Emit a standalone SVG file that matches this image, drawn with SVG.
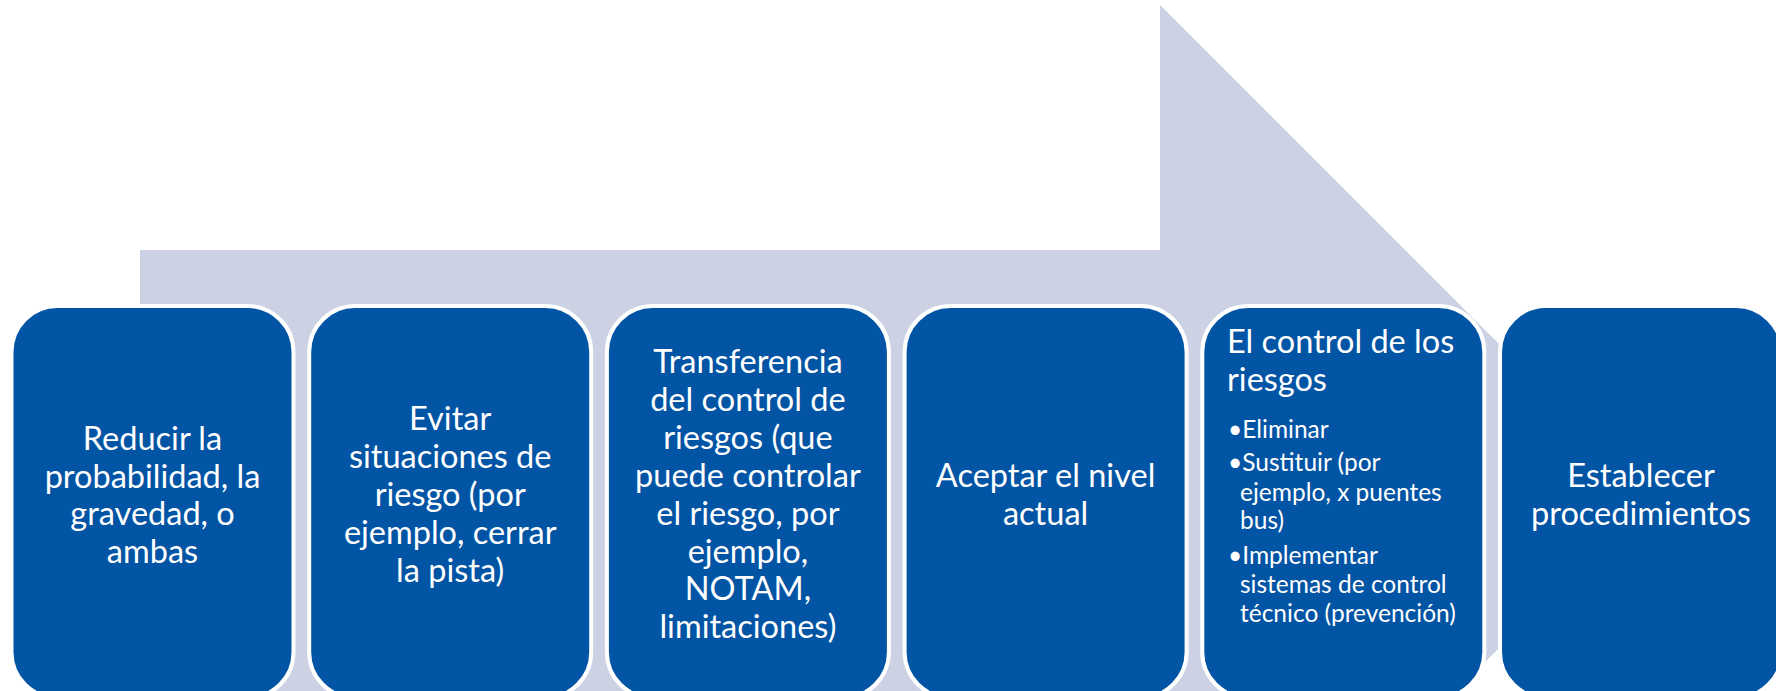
<svg xmlns="http://www.w3.org/2000/svg" width="1776" height="691" viewBox="0 0 1776 691">
<style>
.box{fill:#0254A4;stroke:#FFFFFF;stroke-width:4}
.t{font-family:Lato,"Liberation Sans",sans-serif;font-size:32.5px;fill:#FFFFFF;text-anchor:middle}
.b{font-family:Lato,"Liberation Sans",sans-serif;font-size:24.5px;fill:#FFFFFF}
.h{font-family:Lato,"Liberation Sans",sans-serif;font-size:32.5px;fill:#FFFFFF}
</style>
<rect width="1776" height="691" fill="#FFFFFF"/>
<g id="arrow">
<polygon points="140,250 1160,250 1160,5 1651,496 1160,987 1160,742 140,742" fill="#CCD2E3"/>
</g>
<g id="connectors"></g>
<g id="n1">
<rect class="box" x="11.5" y="306" width="282" height="392" rx="46"/>
<text class="t" x="152.5" y="450">Reducir la</text>
<text class="t" x="152.5" y="488">probabilidad, la</text>
<text class="t" x="152.5" y="525">gravedad, o</text>
<text class="t" x="152.5" y="563">ambas</text>
</g>
<g id="n2">
<rect class="box" x="309.2" y="306" width="282" height="392" rx="46"/>
<text class="t" x="450.2" y="430">Evitar</text>
<text class="t" x="450.2" y="468">situaciones de</text>
<text class="t" x="450.2" y="506">riesgo (por</text>
<text class="t" x="450.2" y="544">ejemplo, cerrar</text>
<text class="t" x="450.2" y="582">la pista)</text>
</g>
<g id="n3">
<rect class="box" x="606.9" y="306" width="282" height="392" rx="46"/>
<text class="t" x="747.9" y="373">Transferencia</text>
<text class="t" x="747.9" y="411">del control de</text>
<text class="t" x="747.9" y="449">riesgos (que</text>
<text class="t" x="747.9" y="487">puede controlar</text>
<text class="t" x="747.9" y="525">el riesgo, por</text>
<text class="t" x="747.9" y="563">ejemplo,</text>
<text class="t" x="747.9" y="600">NOTAM,</text>
<text class="t" x="747.9" y="638">limitaciones)</text>
</g>
<g id="n4">
<rect class="box" x="904.6" y="306" width="282" height="392" rx="46"/>
<text class="t" x="1045.6" y="487">Aceptar el nivel</text>
<text class="t" x="1045.6" y="525">actual</text>
</g>
<g id="n5">
<rect class="box" x="1202.3" y="306" width="282" height="392" rx="46"/>
<text class="h" x="1227" y="353">El control de los</text>
<text class="h" x="1227" y="391">riesgos</text>
<text class="b" x="1228" y="438">•Eliminar</text>
<text class="b" x="1228" y="471">•Sustituir (por</text>
<text class="b" x="1240" y="501">ejemplo, x puentes</text>
<text class="b" x="1240" y="529">bus)</text>
<text class="b" x="1228" y="564">•Implementar</text>
<text class="b" x="1240" y="593">sistemas de control</text>
<text class="b" x="1240" y="622">técnico (prevención)</text>
</g>
<g id="n6">
<rect class="box" x="1500" y="306" width="282" height="392" rx="46"/>
<text class="t" x="1641" y="487">Establecer</text>
<text class="t" x="1641" y="525">procedimientos</text>
</g>
</svg>
